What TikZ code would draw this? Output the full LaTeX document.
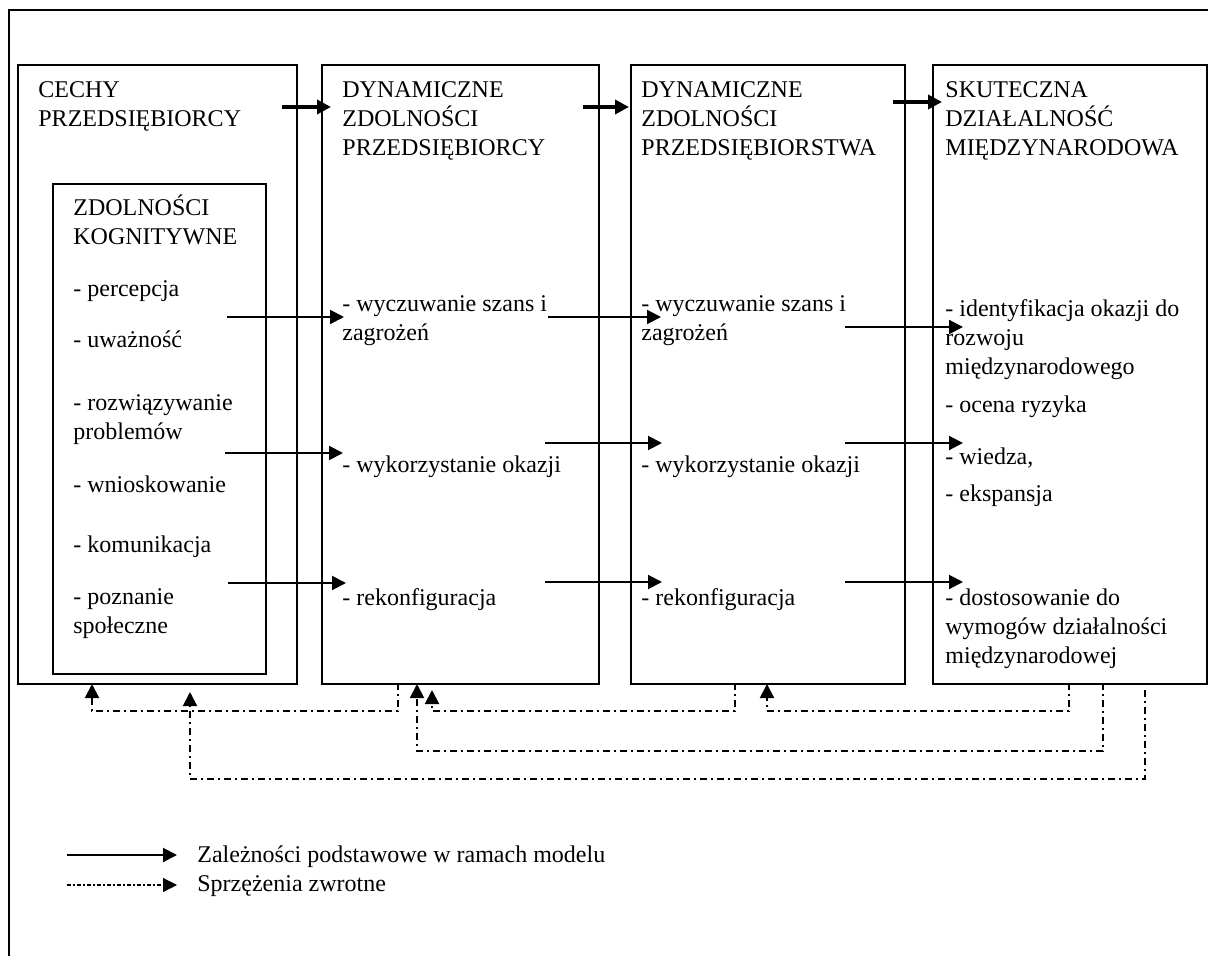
\documentclass[tikz,border=0pt]{standalone}
\usepackage{fontspec}
\setmainfont{Liberation Serif}
\usetikzlibrary{arrows.meta}

\tikzset{
	box/.style={draw, line width=1pt, anchor=north west, inner sep=0pt},
	txt/.style={anchor=base west, inner sep=0pt, align=left, font=\fontsize{12}{14.5}\selectfont},
	tip/.style={-{Triangle[length=7pt, width=7pt]}},
	main/.style={tip, line width=1pt},
	head/.style={tip, line width=2pt},
	back/.style={tip, line width=1pt, dash pattern=on 3.5pt off 2pt on 1pt off 2pt},
	backlegend/.style={tip, line width=0.6pt, dash pattern=on 2pt off 1.2pt on 0.6pt off 1.2pt}
}

\begin{document}
\begin{tikzpicture}[x=0.5pt, y=-0.5pt]
	\useasboundingbox (0, 0) rectangle (1208, 956);
	\draw[line width=1.2pt] (1208, 10) -- (9, 10) -- (9, 956);
	% boxes
	\node[box, minimum width=139.5pt, minimum height=309.5pt] (cechy) at (17, 64) {};
	\node[box, minimum width=106.5pt, minimum height=245pt] (kog) at (52, 183) {};
	\node[box, minimum width=138.5pt, minimum height=309.5pt] (dzp) at (321, 64) {};
	\node[box, minimum width=137pt, minimum height=309.5pt] (dzf) at (630, 64) {};
	\node[box, minimum width=137pt, minimum height=309.5pt] (sdm) at (932, 64) {};
	% headers (placed at the baseline of the last line)
	\node[txt] at (38, 127) (t1) {CECHY\\PRZEDSIĘBIORCY};
	\node[txt] at (342, 156) (t2) {DYNAMICZNE\\ZDOLNOŚCI\\PRZEDSIĘBIORCY};
	\node[txt] at (641, 156) (t3) {DYNAMICZNE\\ZDOLNOŚCI\\PRZEDSIĘBIORSTWA};
	\node[txt] at (945, 156) (t4) {SKUTECZNA\\DZIAŁALNOŚĆ\\MIĘDZYNARODOWA};
	% cognitive abilities
	\node[txt] at (73, 245) (k0) {ZDOLNOŚCI\\KOGNITYWNE};
	\node[txt] at (73, 297) (k1) {- percepcja};
	\node[txt] at (73, 348) (k2) {- uważność};
	\node[txt] at (73, 439) (k3) {- rozwiązywanie\\problemów};
	\node[txt] at (73, 492) (k4) {- wnioskowanie};
	\node[txt] at (73, 552) (k5) {- komunikacja};
	\node[txt] at (73, 633) (k6) {- poznanie\\społeczne};
	% entrepreneur
	\node[txt] at (342, 341) (d1) {- wyczuwanie szans i\\zagrożeń};
	\node[txt] at (342, 472) (d2) {- wykorzystanie okazji};
	\node[txt] at (342, 605) (d3) {- rekonfiguracja};
	% firm
	\node[txt] at (641, 341) (e1) {- wyczuwanie szans i\\zagrożeń};
	\node[txt] at (641, 472) (e2) {- wykorzystanie okazji};
	\node[txt] at (641, 605) (e3) {- rekonfiguracja};
	% international activity
	\node[txt] at (945, 375) (s1) {- identyfikacja okazji do\\rozwoju\\międzynarodowego};
	\node[txt] at (945, 413) (s2) {- ocena ryzyka};
	\node[txt] at (945, 465) (s3) {- wiedza,};
	\node[txt] at (945, 501) (s4) {- ekspansja};
	\node[txt] at (945, 663) (s5) {- dostosowanie do\\wymogów działalności\\międzynarodowej};
	% header arrows
	\coordinate (h1) at (282, 107); \coordinate (h2) at (331, 107);
	\coordinate (h3) at (583, 107); \coordinate (h4) at (629, 107);
	\coordinate (h5) at (893, 102); \coordinate (h6) at (942, 102);
	\draw[head] (h1) -- (h2);
	\draw[head] (h3) -- (h4);
	\draw[head] (h5) -- (h6);
	% main links
	\coordinate (a1) at (227, 317); \coordinate (a2) at (344, 317);
	\coordinate (a3) at (548, 317); \coordinate (a4) at (661, 317);
	\coordinate (a5) at (845, 327); \coordinate (a6) at (963, 327);
	\coordinate (b1) at (225, 453); \coordinate (b2) at (343, 453);
	\coordinate (b3) at (545, 443); \coordinate (b4) at (662, 443);
	\coordinate (b5) at (845, 443); \coordinate (b6) at (963, 443);
	\coordinate (c1) at (228, 583); \coordinate (c2) at (346, 583);
	\coordinate (c3) at (545, 582); \coordinate (c4) at (662, 582);
	\coordinate (c5) at (845, 582); \coordinate (c6) at (963, 582);
	\draw[main] (a1) -- (a2);
	\draw[main] (a3) -- (a4);
	\draw[main] (a5) -- (a6);
	\draw[main] (b1) -- (b2);
	\draw[main] (b3) -- (b4);
	\draw[main] (b5) -- (b6);
	\draw[main] (c1) -- (c2);
	\draw[main] (c3) -- (c4);
	\draw[main] (c5) -- (c6);
	% feedback
	\coordinate (fa) at (398, 683); \coordinate (fa') at (92, 684);
	\coordinate (fb) at (1145, 690); \coordinate (fb') at (190, 692);
	\coordinate (fc) at (1103, 683); \coordinate (fc') at (417, 684);
	\coordinate (fd) at (735, 683); \coordinate (fd') at (432, 690);
	\coordinate (fe) at (1069, 683); \coordinate (fe') at (767, 684);
	\draw[back] (fa) -- ++(0, 28) -| (fa');
	\draw[back] (fb) -- ++(0, 89) -| (fb');
	\draw[back] (fc) -- ++(0, 68) -| (fc');
	\draw[back] (fd) -- ++(0, 28) -| (fd');
	\draw[back] (fe) -- ++(0, 28) -| (fe');
	% legend
	\node[txt] at (197, 862) (l1) {Zależności podstawowe w ramach modelu};
	\node[txt] at (197, 891) (l2) {Sprzężenia zwrotne};
	\coordinate (m1) at (67, 855); \coordinate (m2) at (177, 855);
	\coordinate (n1) at (67, 885); \coordinate (n2) at (177, 885);
	\draw[main] (m1) -- (m2);
	\draw[backlegend] (n1) -- (n2);
\end{tikzpicture}
\end{document}
